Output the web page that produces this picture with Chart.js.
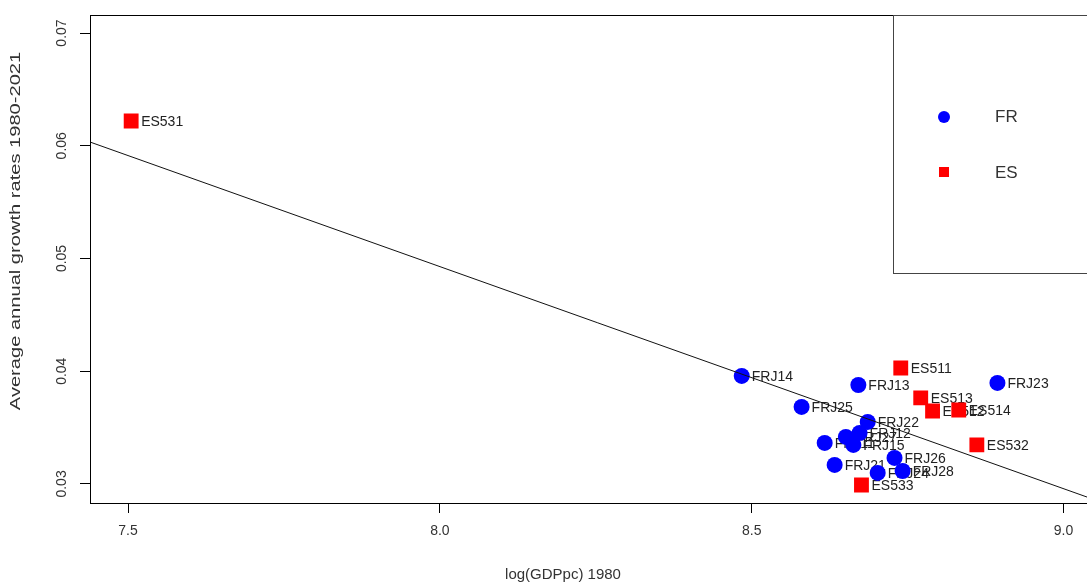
<!DOCTYPE html>
<html>
<head>
<meta charset="utf-8">
<script src="https://cdn.jsdelivr.net/npm/chart.js@4.4.0/dist/chart.umd.min.js"></script>
<style>
  html, body { margin: 0; padding: 0; background: #fff; overflow: hidden; }
  #wrap { position: absolute; left: 0; top: 0; width: 1120px; height: 582px; }
</style>
</head>
<body>
<div id="wrap"><canvas id="growthChart" width="1120" height="582"></canvas></div>
<script>
// FR regions: log GDP per capita 1980 vs average annual growth 1980-2021
const frLabels = ['FRJ11', 'FRJ12', 'FRJ13', 'FRJ14', 'FRJ15', 'FRJ21', 'FRJ22',
  'FRJ23', 'FRJ24', 'FRJ25', 'FRJ26', 'FRJ27', 'FRJ28'];
const frGdp = [8.617, 8.673, 8.671, 8.484, 8.663, 8.633, 8.686,
  8.894, 8.702, 8.580, 8.729, 8.651, 8.742];
const frGrowth = [0.03364, 0.03452, 0.03878, 0.03958, 0.03346, 0.03169, 0.0355,
  0.03896, 0.03098, 0.03683, 0.03231, 0.03417, 0.03115];

// ES regions
const esLabels = ['ES511', 'ES512', 'ES513', 'ES514', 'ES531', 'ES532', 'ES533'];
const esGdp = [8.739, 8.790, 8.771, 8.832, 7.505, 8.861, 8.676];
const esGrowth = [0.04029, 0.03647, 0.03763, 0.03656, 0.0622, 0.03346, 0.02991];

// fitted line  growth = a + b * log(GDPpc)
const fitIntercept = 0.20688;
const fitSlope = -0.0197;
const fitRange = [7.3, 9.3];

const xTicks = [7.5, 8.0, 8.5, 9.0];
const yTicks = [0.03, 0.04, 0.05, 0.06, 0.07];

const textColor = '#222';
const labelFont = '14px "Liberation Sans", Arial, sans-serif';

const toPoints = (xs, ys) => xs.map((x, i) => ({ x: x, y: ys[i] }));

// labels next to each marker, R text(pos = 4) style
const pointLabels = {
  id: 'pointLabels',
  beforeDatasetsDraw(chart) {
    const ctx = chart.ctx;
    ctx.save();
    ctx.font = labelFont;
    ctx.fillStyle = textColor;
    ctx.textAlign = 'left';
    ctx.textBaseline = 'middle';
    chart.data.datasets.forEach((ds, i) => {
      if (!ds.names) return;
      chart.getDatasetMeta(i).data.forEach((pt, j) => {
        ctx.fillText(ds.names[j], pt.x + 10, pt.y + 1);
      });
    });
    ctx.restore();
  }
};

// box, axis labels, titles and legend drawn base-graphics style
const frame = {
  id: 'frame',
  afterDraw(chart) {
    const ctx = chart.ctx;
    const area = chart.chartArea;
    const xs = chart.scales.x;
    const ys = chart.scales.y;
    ctx.save();
    ctx.strokeStyle = '#000';
    ctx.lineWidth = 1;
    ctx.strokeRect(Math.round(area.left) + 0.5, Math.round(area.top) + 0.5,
      Math.round(area.right - area.left), Math.round(area.bottom - area.top));

    ctx.fillStyle = '#333';
    ctx.font = '14px "Liberation Sans", Arial, sans-serif';
    ctx.textAlign = 'center';
    ctx.textBaseline = 'middle';
    xs.ticks.forEach(t => {
      ctx.fillText(t.value.toFixed(1), xs.getPixelForValue(t.value), 531);
    });
    ys.ticks.forEach(t => {
      ctx.save();
      ctx.translate(62, ys.getPixelForValue(t.value));
      ctx.rotate(-Math.PI / 2);
      ctx.fillText(t.value.toFixed(2), 0, 0);
      ctx.restore();
    });

    ctx.font = '15px "Liberation Sans", Arial, sans-serif';
    ctx.fillText('log(GDPpc) 1980', 563, 575);
    // y title is drawn stretched along its length
    ctx.save();
    ctx.translate(16, 231);
    ctx.rotate(-Math.PI / 2);
    ctx.scale(1.34, 1);
    ctx.fillText('Average annual growth rates 1980-2021', 0, 0);
    ctx.restore();

    // legend box in the top right corner
    const lx = 893.5;
    const ly = Math.round(area.top) + 0.5;
    ctx.strokeStyle = '#444';
    ctx.strokeRect(lx, ly, area.right - lx + 20, 258);
    ctx.fillStyle = '#0000ff';
    ctx.beginPath();
    ctx.arc(944, 117, 6, 0, Math.PI * 2);
    ctx.fill();
    ctx.fillStyle = '#ff0000';
    ctx.fillRect(939, 167, 10, 10);
    ctx.fillStyle = '#333';
    ctx.font = '17px "Liberation Sans", Arial, sans-serif';
    ctx.textAlign = 'left';
    ctx.fillText('FR', 995, 117);
    ctx.fillText('ES', 995, 173);
    ctx.restore();
  }
};

const axisGrid = {
  display: true,
  drawOnChartArea: false,
  drawTicks: true,
  tickLength: 10,
  color: '#000',
  tickColor: '#000'
};

const growthChart = document.getElementById('growthChart');
new Chart(growthChart, {
  type: 'scatter',
  data: {
    datasets: [
      {
        type: 'line',
        data: fitRange.map(x => ({ x: x, y: fitIntercept + fitSlope * x })),
        borderColor: '#111',
        borderWidth: 1,
        pointRadius: 0,
        order: 0
      },
      {
        names: frLabels,
        data: toPoints(frGdp, frGrowth),
        backgroundColor: '#0000ff',
        borderWidth: 0,
        pointStyle: 'circle',
        pointRadius: 8,
        order: 1
      },
      {
        names: esLabels,
        data: toPoints(esGdp, esGrowth),
        backgroundColor: '#ff0000',
        borderWidth: 0,
        pointStyle: 'rect',
        pointRadius: 10.5,
        order: 2
      }
    ]
  },
  options: {
    responsive: false,
    devicePixelRatio: 1,
    animation: false,
    layout: {
      padding: { top: 15, right: 10, bottom: 0, left: 0 }
    },
    plugins: {
      legend: { display: false },
      tooltip: { enabled: false }
    },
    scales: {
      x: {
        type: 'linear',
        min: 7.439,
        max: 9.0737,
        grid: axisGrid,
        border: { display: false },
        ticks: { display: false },
        afterBuildTicks: s => { s.ticks = xTicks.map(v => ({ value: v })); },
        afterFit: s => { s.height = 79; }
      },
      y: {
        type: 'linear',
        min: 0.02831,
        max: 0.0716,
        grid: axisGrid,
        border: { display: false },
        ticks: { display: false },
        afterBuildTicks: s => { s.ticks = yTicks.map(v => ({ value: v })); },
        afterFit: s => { s.width = 90; }
      }
    }
  },
  plugins: [pointLabels, frame]
});
</script>
</body>
</html>
